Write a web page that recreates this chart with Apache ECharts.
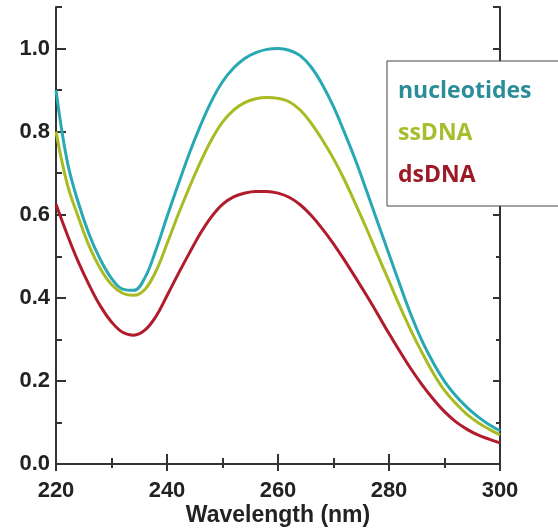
<!DOCTYPE html>
<html>
<head>
<meta charset="utf-8">
<script src="https://cdn.jsdelivr.net/npm/echarts@6/dist/echarts.min.js"></script>
<style>html,body{margin:0;padding:0;background:#fff;}#c{width:558px;height:528px;}</style>
</head>
<body>
<div id="c"></div>
<script>
const wavelengths = [220,222,224,226,228,230,232,234,236,238,240,242,244,246,248,250,252,254,256,258,260,262,264,266,268,270,272,274,276,278,280,282,284,286,288,290,292,294,296,298,300];
const nucleotides = [0.90,0.73,0.63,0.552,0.492,0.447,0.421,0.418,0.448,0.515,0.595,0.672,0.747,0.814,0.873,0.92,0.953,0.976,0.99,0.998,1.0,0.996,0.983,0.955,0.913,0.86,0.797,0.73,0.656,0.58,0.505,0.43,0.358,0.295,0.243,0.199,0.165,0.137,0.114,0.095,0.08];
const ssDNA = [0.80,0.675,0.595,0.524,0.47,0.432,0.411,0.406,0.42,0.464,0.53,0.60,0.665,0.726,0.78,0.823,0.852,0.87,0.879,0.882,0.88,0.872,0.852,0.82,0.78,0.735,0.683,0.625,0.565,0.502,0.44,0.378,0.32,0.267,0.218,0.177,0.146,0.12,0.10,0.084,0.07];
const dsDNA = [0.625,0.553,0.487,0.43,0.38,0.342,0.317,0.31,0.322,0.355,0.405,0.457,0.507,0.555,0.595,0.625,0.643,0.652,0.656,0.656,0.652,0.642,0.624,0.598,0.566,0.53,0.49,0.448,0.405,0.36,0.314,0.27,0.228,0.19,0.156,0.126,0.102,0.084,0.07,0.06,0.051];
const seriesNames = ['nucleotides','ssDNA','dsDNA'];
const xTitle = 'Wavelength (nm)';

const lineColors = ['#28a8b2','#a9bb22','#b01c2c'];
const textColors = ['#2b8d98','#a6be2c','#9c1a26'];
const axisColor = '#333';
const tickFont = {fontFamily:'"Liberation Sans", Arial, sans-serif', fontWeight:'bold', fontSize:22, color:'#222'};

function pairs(vals){ return wavelengths.map((w,i)=>[w, vals[i]]); }
const allVals = [nucleotides, ssDNA, dsDNA];

const chart = echarts.init(document.getElementById('c'), null, {renderer:'canvas'});
chart.setOption({
  animation:false,
  backgroundColor:'#fff',
  grid:{left:56, right:58, top:7, bottom:64, containLabel:false, outerBoundsMode:'none'},
  legend:{
    orient:'vertical', left:387, top:61,
    padding:[19,40,19,6], itemGap:19,
    itemWidth:0, itemHeight:22, icon:'rect',
    borderColor:'#444', borderWidth:1, backgroundColor:'#fff',
    selectedMode:false,
    textStyle:{fontFamily:'"Open Sans", sans-serif', fontWeight:'bold', fontSize:23, lineHeight:22},
    data: seriesNames.map((n,i)=>({name:n, itemStyle:{opacity:0}, textStyle:{color:textColors[i]}}))
  },
  xAxis:[
    {type:'value', position:'bottom', min:220, max:300, interval:20,
     name:xTitle, nameLocation:'middle', nameGap:40, nameMoveOverlap:false,
     nameTextStyle:{fontFamily:'"Liberation Sans", Arial, sans-serif', fontWeight:'bold', fontSize:23, color:'#222'},
     axisLine:{show:true, lineStyle:{color:axisColor, width:2}},
     axisTick:{show:true, inside:true, length:10, lineStyle:{color:axisColor, width:2}},
     minorTick:{show:true, splitNumber:2, length:6, lineStyle:{color:axisColor, width:2}},
     axisLabel:{...tickFont, margin:16},
     splitLine:{show:false}},
    {type:'value', position:'top', min:220, max:300, interval:20,
     axisLine:{show:true, lineStyle:{color:axisColor, width:2}},
     axisTick:{show:true, inside:true, length:7, lineStyle:{color:axisColor, width:2}},
     minorTick:{show:true, splitNumber:2, length:4, lineStyle:{color:axisColor, width:2}},
     axisLabel:{show:false}, splitLine:{show:false}}
  ],
  yAxis:[
    {type:'value', position:'left', min:0, max:1.1, interval:0.2,
     axisLine:{show:true, lineStyle:{color:axisColor, width:2}},
     axisTick:{show:true, inside:true, length:10, lineStyle:{color:axisColor, width:2}},
     axisLabel:{...tickFont, margin:6, showMaxLabel:false, formatter:v=>v.toFixed(1)},
     splitLine:{show:false}},
    {type:'value', position:'left', min:0, max:1.1, interval:0.1,
     axisLine:{show:false},
     axisTick:{show:true, inside:true, length:6, lineStyle:{color:axisColor, width:2}},
     axisLabel:{show:false}, splitLine:{show:false}},
    {type:'value', position:'right', min:0, max:1.1, interval:0.2,
     axisLine:{show:true, lineStyle:{color:axisColor, width:2}},
     axisTick:{show:true, inside:true, length:7, lineStyle:{color:axisColor, width:2}},
     axisLabel:{show:false}, splitLine:{show:false}},
    {type:'value', position:'right', min:0, max:1.1, interval:0.1,
     axisLine:{show:false},
     axisTick:{show:true, inside:true, length:4, lineStyle:{color:axisColor, width:2}},
     axisLabel:{show:false}, splitLine:{show:false}}
  ],
  series: seriesNames.map((n,i)=>({
    name:n, type:'line', xAxisIndex:0, yAxisIndex:0,
    data:pairs(allVals[i]), smooth:0.4, showSymbol:false, symbol:'none',
    lineStyle:{color:lineColors[i], width:3}, itemStyle:{color:lineColors[i]},
    z:2+i
  }))
});
</script>
</body>
</html>
